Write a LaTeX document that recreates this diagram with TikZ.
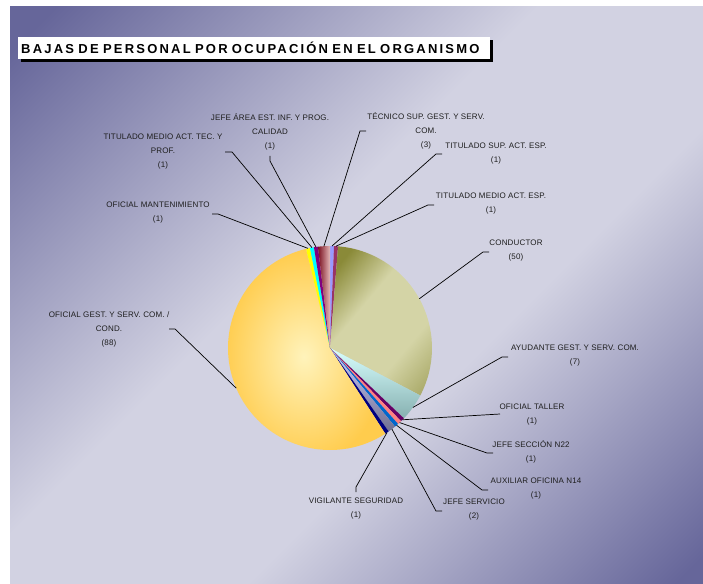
\documentclass[tikz,border=0pt]{standalone}
\usepackage{fontspec}
\setmainfont{Liberation Sans}
\newfontfamily\titlefont[LetterSpace=17]{Liberation Sans}
\newfontfamily\labfont[LetterSpace=2]{Liberation Sans}
\definecolor{bgdark}{HTML}{66669A}
\definecolor{bglight}{HTML}{D2D2E2}
\definecolor{labgray}{HTML}{1E1E1E}
\definecolor{ctsup}{HTML}{9999FF}
\definecolor{ctmesp}{HTML}{993366}
\definecolor{condA}{HTML}{8A8A38}
\definecolor{condB}{HTML}{D4D4A6}
\definecolor{condC}{HTML}{ACAC6C}
\definecolor{ayuA}{HTML}{D8FFFF}
\definecolor{ayuB}{HTML}{86B0B0}
\definecolor{ctaller}{HTML}{660066}
\definecolor{cjsec}{HTML}{FF8080}
\definecolor{caux}{HTML}{0066CC}
\definecolor{jservA}{HTML}{CCCCFF}
\definecolor{jservB}{HTML}{707090}
\definecolor{cvig}{HTML}{000080}
\definecolor{gestA}{HTML}{FFF3BB}
\definecolor{gestB}{HTML}{FFCC4D}
\definecolor{cmant}{HTML}{FFFF00}
\definecolor{ctmtec}{HTML}{00FFFF}
\definecolor{cjarea}{HTML}{800080}
\definecolor{tecA}{HTML}{7A1020}
\definecolor{tecB}{HTML}{C89090}
\definecolor{tecC}{HTML}{E4B8B8}
\pgfdeclarehorizontalshading{bgsh}{100bp}{color(0bp)=(bgdark); color(17bp)=(bgdark); color(44bp)=(bglight); color(60bp)=(bglight); color(84bp)=(bgdark); color(100bp)=(bgdark)}
\pgfdeclarehorizontalshading{condsh}{100bp}{color(0bp)=(condA); color(22bp)=(condA); color(40bp)=(condB); color(64bp)=(condB); color(80bp)=(condC); color(100bp)=(condC)}
\def\uu{2.2641509}
\def\pr{102}
\begin{document}
\begin{tikzpicture}[x=1bp,y=-1bp,
  lab/.style={font=\labfont\fontsize{8bp}{14bp}\selectfont, text=labgray, align=center, inner sep=0pt},
  lead/.style={draw=black, line width=0.7bp}]
\useasboundingbox (0,0) rectangle (703,584);
\fill[white] (0,0) rectangle (703,584);
\shade[shading=bgsh, shading angle=-45] (10,7) rectangle (703,584);
% title
\fill[black] (21,40) rectangle (493,62);
\node[fill=white, anchor=north west, text width=466bp, align=left, inner xsep=3bp, inner ysep=0pt, minimum height=22bp,
  font=\titlefont\bfseries\fontsize{13bp}{14bp}\selectfont] (title) at (18,37) {BAJAS DE PERSONAL POR OCUPACIÓN EN EL ORGANISMO};
% pie
\coordinate (c) at (330,348);
\fill[ctsup] (c) -- ++({0*\uu-90}:\pr) arc[start angle={0*\uu-90}, end angle={1*\uu-90}, radius=\pr] -- cycle;
\fill[ctmesp] (c) -- ++({1*\uu-90}:\pr) arc[start angle={1*\uu-90}, end angle={2*\uu-90}, radius=\pr] -- cycle;
\shade[shading=condsh, shading angle=-40] (c) -- ++({2*\uu-90}:\pr) arc[start angle={2*\uu-90}, end angle={52*\uu-90}, radius=\pr] -- cycle;
\shade[top color=ayuA, bottom color=ayuB] (c) -- ++({52*\uu-90}:\pr) arc[start angle={52*\uu-90}, end angle={59*\uu-90}, radius=\pr] -- cycle;
\fill[ctaller] (c) -- ++({59*\uu-90}:\pr) arc[start angle={59*\uu-90}, end angle={60*\uu-90}, radius=\pr] -- cycle;
\fill[cjsec] (c) -- ++({60*\uu-90}:\pr) arc[start angle={60*\uu-90}, end angle={61*\uu-90}, radius=\pr] -- cycle;
\fill[caux] (c) -- ++({61*\uu-90}:\pr) arc[start angle={61*\uu-90}, end angle={62*\uu-90}, radius=\pr] -- cycle;
\shade[top color=jservA, bottom color=jservB] (c) -- ++({62*\uu-90}:\pr) arc[start angle={62*\uu-90}, end angle={64*\uu-90}, radius=\pr] -- cycle;
\fill[cvig] (c) -- ++({64*\uu-90}:\pr) arc[start angle={64*\uu-90}, end angle={65*\uu-90}, radius=\pr] -- cycle;
\shade[inner color=gestA, outer color=gestB] (c) -- ++({65*\uu-90}:\pr) arc[start angle={65*\uu-90}, end angle={153*\uu-90}, radius=\pr] -- cycle;
\fill[cmant] (c) -- ++({153*\uu-90}:\pr) arc[start angle={153*\uu-90}, end angle={154*\uu-90}, radius=\pr] -- cycle;
\fill[ctmtec] (c) -- ++({154*\uu-90}:\pr) arc[start angle={154*\uu-90}, end angle={155*\uu-90}, radius=\pr] -- cycle;
\fill[cjarea] (c) -- ++({155*\uu-90}:\pr) arc[start angle={155*\uu-90}, end angle={156*\uu-90}, radius=\pr] -- cycle;
\shade[left color=tecA, middle color=tecB, right color=tecC] (c) -- ++({156*\uu-90}:\pr) arc[start angle={156*\uu-90}, end angle={159*\uu-90}, radius=\pr] -- cycle;
% pie edge points
\path (c) ++({0.5*\uu-90}:\pr) coordinate (p-tsup);
\path (c) ++({1.5*\uu-90}:\pr) coordinate (p-tmesp);
\path (c) ++({27*\uu-90}:\pr) coordinate (p-cond);
\path (c) ++({55.5*\uu-90}:\pr) coordinate (p-ayu);
\path (c) ++({59.5*\uu-90}:\pr) coordinate (p-taller);
\path (c) ++({60.5*\uu-90}:\pr) coordinate (p-jsec);
\path (c) ++({61.5*\uu-90}:\pr) coordinate (p-aux);
\path (c) ++({63*\uu-90}:\pr) coordinate (p-jserv);
\path (c) ++({64.5*\uu-90}:\pr) coordinate (p-vig);
\path (c) ++({109*\uu-90}:\pr) coordinate (p-gest);
\path (c) ++({153.5*\uu-90}:\pr) coordinate (p-mant);
\path (c) ++({154.5*\uu-90}:\pr) coordinate (p-tmtec);
\path (c) ++({155.5*\uu-90}:\pr) coordinate (p-jarea);
\path (c) ++({157.5*\uu-90}:\pr) coordinate (p-tec);
% labels
\node[lab] (l-jarea) at (270,132) {JEFE ÁREA EST. INF. Y PROG.\\CALIDAD\\(1)};
\node[lab] (l-tmtec) at (163,152) {TITULADO MEDIO ACT. TEC. Y\\PROF.\\(1)};
\node[lab] (l-mant) at (158,213) {OFICIAL MANTENIMIENTO\\(1)};
\node[lab] (l-tec) at (426,131) {TÉCNICO SUP. GEST. Y SERV.\\COM.\\(3)};
\node[lab] (l-tsup) at (496,154) {TITULADO SUP. ACT. ESP.\\(1)};
\node[lab] (l-tmesp) at (491,204) {TITULADO MEDIO ACT. ESP.\\(1)};
\node[lab] (l-cond) at (516,251) {CONDUCTOR\\(50)};
\node[lab] (l-ayu) at (575,356) {AYUDANTE GEST. Y SERV. COM.\\(7)};
\node[lab] (l-taller) at (532,415) {OFICIAL TALLER\\(1)};
\node[lab] (l-jsec) at (531,452) {JEFE SECCIÓN N22\\(1)};
\node[lab] (l-aux) at (536,489) {AUXILIAR OFICINA N14\\(1)};
\node[lab] (l-jserv) at (474,510) {JEFE SERVICIO\\(2)};
\node[lab] (l-vig) at (356,509) {VIGILANTE SEGURIDAD\\(1)};
\node[lab] (l-gest) at (109,329) {OFICIAL GEST. Y SERV. COM. /\\COND.\\(88)};
% leader tick coordinates
\coordinate (a-gest) at (169,329); \coordinate (b-gest) at (175,329);
\coordinate (a-cond) at (489,252); \coordinate (b-cond) at (483,252);
\coordinate (a-ayu) at (508,357); \coordinate (b-ayu) at (502,357);
\coordinate (b-taller) at (500,414);
\coordinate (a-jsec) at (493,453); \coordinate (b-jsec) at (487,453);
\coordinate (a-aux) at (488,490); \coordinate (b-aux) at (482,490);
\coordinate (a-jserv) at (442,511); \coordinate (b-jserv) at (436,511);
\coordinate (a-vig) at (356,492); \coordinate (b-vig) at (356,487);
\coordinate (a-mant) at (212,214); \coordinate (b-mant) at (218,214);
\coordinate (a-tmtec) at (225,152); \coordinate (b-tmtec) at (232,152);
\coordinate (a-jarea) at (270,156); \coordinate (b-jarea) at (270,161);
\coordinate (a-tec) at (366,131); \coordinate (b-tec) at (360,131);
\coordinate (a-tsup) at (442,154); \coordinate (b-tsup) at (436,154);
\coordinate (a-tmesp) at (434,205); \coordinate (b-tmesp) at (428,205);
% leaders
\draw[lead] (a-gest) -- (b-gest) -- (p-gest);
\draw[lead] (a-cond) -- (b-cond) -- (p-cond);
\draw[lead] (a-ayu) -- (b-ayu) -- (p-ayu);
\draw[lead] (b-taller) -- (p-taller);
\draw[lead] (a-jsec) -- (b-jsec) -- (p-jsec);
\draw[lead] (a-aux) -- (b-aux) -- (p-aux);
\draw[lead] (a-jserv) -- (b-jserv) -- (p-jserv);
\draw[lead] (a-vig) -- (b-vig) -- (p-vig);
\draw[lead] (a-mant) -- (b-mant) -- (p-mant);
\draw[lead] (a-tmtec) -- (b-tmtec) -- (p-tmtec);
\draw[lead] (a-jarea) -- (b-jarea) -- (p-jarea);
\draw[lead] (a-tec) -- (b-tec) -- (p-tec);
\draw[lead] (a-tsup) -- (b-tsup) -- (p-tsup);
\draw[lead] (a-tmesp) -- (b-tmesp) -- (p-tmesp);
\end{tikzpicture}
\end{document}
